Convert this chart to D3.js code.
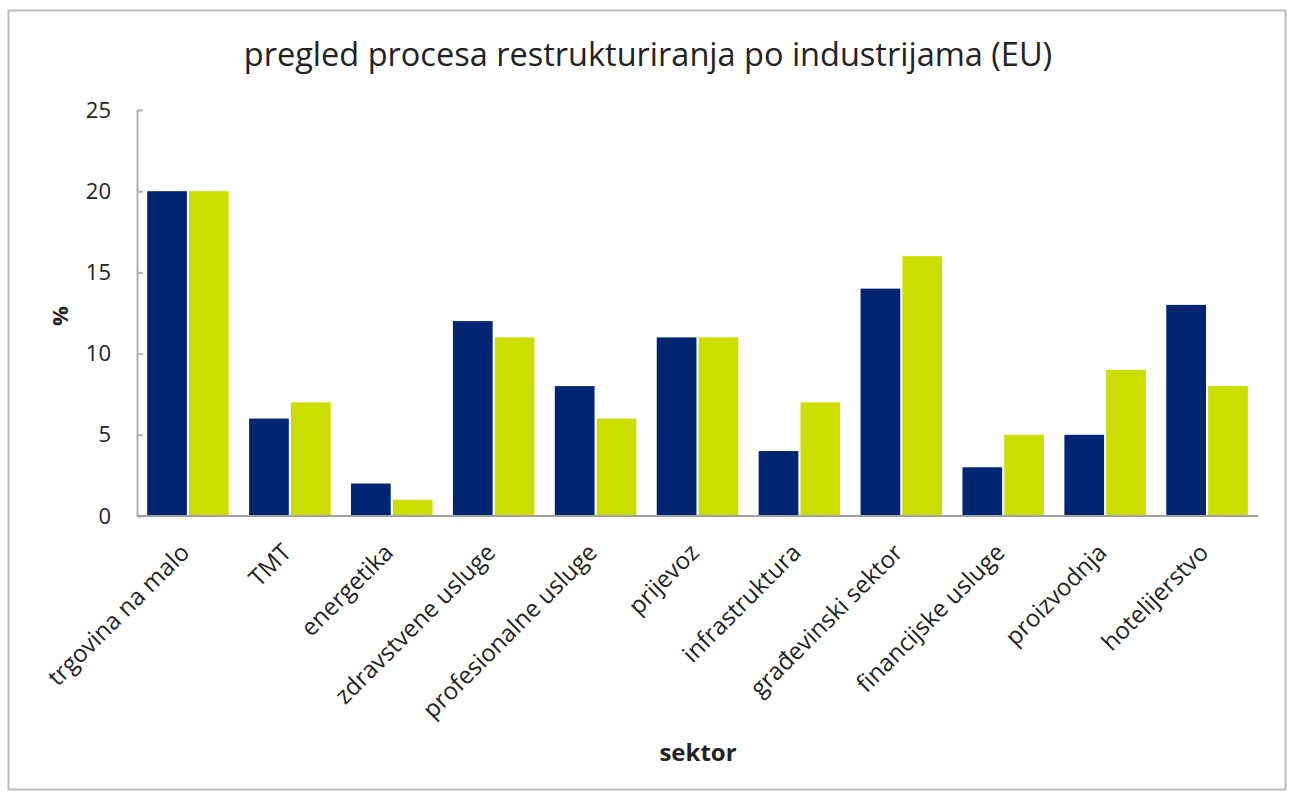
<!DOCTYPE html>
<html><head><meta charset="utf-8">
<script src="https://cdn.jsdelivr.net/npm/d3@7"></script>
<style>body{margin:0;background:#fff}svg{display:block}</style>
</head><body>
<svg id="c" width="1292" height="796"></svg>
<script>
const categories = ["trgovina na malo","TMT","energetika","zdravstvene usluge","profesionalne usluge","prijevoz","infrastruktura","građevinski sektor","financijske usluge","proizvodnja","hotelijerstvo"];
const seriesA = [20,6,2,12,8,11,4,14,3,5,13];
const seriesB = [20,7,1,11,6,11,7,16,5,9,8];
const yTicks = [0,5,10,15,20,25];
const colors = ["#002673","#ccdd00"];
const FONT = "'Open Sans', sans-serif";

const svg = d3.select("#c");
svg.append("rect").attr("x",8.5).attr("y",10.5).attr("width",1277).attr("height",779)
  .attr("fill","#fff").attr("stroke","#bdbdbd").attr("stroke-width",2);

const x0 = 137, x1 = 1258, yTop = 110, yBot = 516;
const x = d3.scaleBand().domain(categories).range([x0,x1]).paddingInner(0.2).paddingOuter(0.1);
const xs = d3.scaleBand().domain([0,1]).range([0,x.bandwidth()]).paddingInner(0.05);
const y = d3.scaleLinear().domain([0,25]).range([yBot,yTop]);

const g = svg.append("g");
categories.forEach((c,i)=>{
  [seriesA[i],seriesB[i]].forEach((v,j)=>{
    g.append("rect").attr("x",x(c)+xs(j)).attr("y",y(v)).attr("width",xs.bandwidth())
      .attr("height",y(0)-y(v)).attr("fill",colors[j]);
  });
});

const ya = svg.append("g").attr("transform",`translate(${x0},0)`)
  .call(d3.axisLeft(y).tickValues(yTicks).tickSize(-6).tickPadding(28).tickSizeOuter(0));
ya.select(".domain").attr("stroke","#b0b0b0").attr("stroke-width",2);
ya.selectAll(".tick line").attr("stroke","#b0b0b0").attr("stroke-width",2).attr("x2",6);
ya.selectAll(".tick text").attr("font-family",FONT).attr("font-size",22).attr("fill","#222")
  .attr("x",-26);

svg.append("line").attr("x1",x0).attr("x2",x1).attr("y1",yBot).attr("y2",yBot)
  .attr("stroke","#a0a0a0").attr("stroke-width",2);

const xa = svg.append("g");
categories.forEach(c=>{
  const cx = x(c)+x.bandwidth()/2+3;
  xa.append("text").attr("transform",`translate(${cx},${yBot+38}) rotate(-45)`)
    .attr("text-anchor","end")
    .attr("font-family",FONT).attr("font-size",24).attr("fill","#222").text(c);
});

svg.append("text").attr("x",648).attr("y",66).attr("text-anchor","middle")
  .attr("font-family",FONT).attr("font-size",32.5).attr("fill","#222")
  .text("pregled procesa restrukturiranja po industrijama (EU)");
svg.append("text").attr("transform","translate(59,316) rotate(-90)").attr("text-anchor","middle")
  .attr("dominant-baseline","central")
  .attr("font-family",FONT).attr("font-size",22).attr("font-weight","bold").attr("fill","#222").text("%");
svg.append("text").attr("x",698).attr("y",761).attr("text-anchor","middle")
  .attr("font-family",FONT).attr("font-size",24).attr("font-weight","bold").attr("fill","#222").text("sektor");
</script>
</body></html>
